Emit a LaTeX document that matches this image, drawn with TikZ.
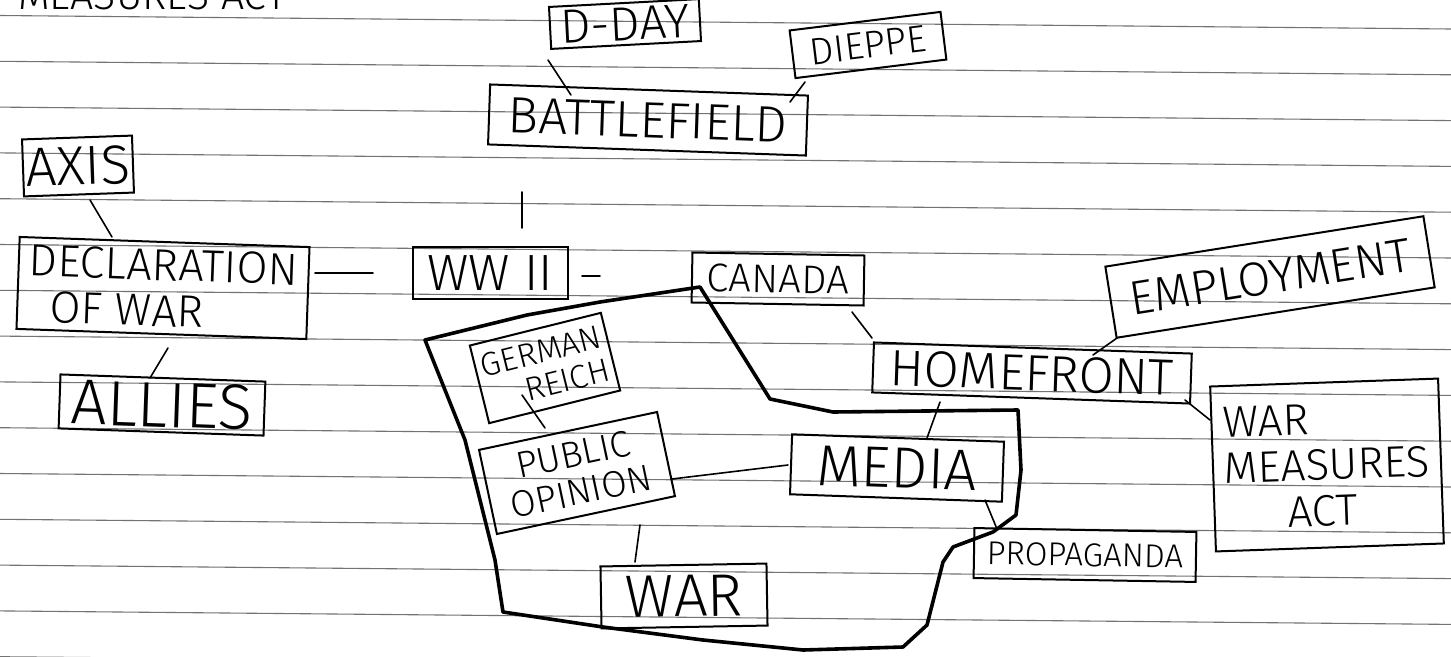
\documentclass[tikz,border=0pt]{standalone}
\usepackage{fontspec}
\IfFontExistsTF{Fira Sans Light}{\setmainfont{Fira Sans Light}}{\setmainfont{Liberation Sans}}
\usetikzlibrary{calc}
\tikzset{
  concept/.style={draw=black, line width=2pt, rectangle, inner sep=0pt, align=center},
  link/.style={line width=1.6pt, line cap=round},
  ruleline/.style={black!55, line width=1.1pt},
  region/.style={line width=3.6pt, line join=round, line cap=round},
  fs/.style={font=\fontsize{#1}{#1}\selectfont},
  fsl/.style 2 args={font=\fontsize{#1}{#2}\selectfont},
}
\begin{document}
\begin{tikzpicture}[x=1pt,y=-1pt]
\useasboundingbox (0,0) rectangle (1451,656);
\clip (0,0) rectangle (1451,656);
\fill[white] (0,0) rectangle (1451,656);
\foreach \k in {0,...,14} \draw[ruleline] (0,{15.5+45.8*\k}) -- (1451,{29+45.8*\k});

% cut-off text at the top
\node[anchor=base west, inner sep=0pt, fs=41] (top) at (18,9) {MEASURES ACT};

% concepts
\node[concept, minimum width=150, minimum height=42, rotate=3, fs=48] (dday) at (625,24) {D-DAY};
\node[concept, minimum width=152, minimum height=48, rotate=7, fs=38] (dieppe) at (868,45) {DIEPPE};
\node[concept, minimum width=318, minimum height=60, rotate=-2, fs=51] (battle) at (648,120) {BATTLEFIELD};
\node[concept, minimum width=110, minimum height=57, rotate=2, fs=55] (axis) at (78,166) {AXIS};
\node[concept, minimum width=290, minimum height=92, rotate=-2, align=left, fsl={45}{46}] (decl) at (163,288) {DECLARATION\\\hspace{22pt}OF WAR};
\node[concept, minimum width=205, minimum height=54, rotate=-2, fs=64] (allies) at (162,405) {ALLIES};
\node[concept, minimum width=155, minimum height=52, fs=51] (ww2) at (490,273) {WW II};
\node[concept, minimum width=172, minimum height=50, rotate=-1, fs=40] (canada) at (778,279) {CANADA};
\node[concept, minimum width=318, minimum height=50, rotate=-2, fs=51] (home) at (1032,373) {HOMEFRONT};
\node[concept, minimum width=322, minimum height=72, rotate=9, fs=48] (employ) at (1270,277) {EMPLOYMENT};
\node[concept, minimum width=228, minimum height=165, rotate=2, align=left, fsl={44}{46}] (wma) at (1327,465) {WAR\\MEASURES\\\hspace{62pt}ACT};
\node[concept, minimum width=135, minimum height=80, rotate=14, align=right, fsl={33}{34}] (german) at (545,368) {GERMAN\\REICH};
\node[concept, minimum width=182, minimum height=86, rotate=12, fsl={37}{38}] (public) at (577,473) {PUBLIC\\OPINION};
\node[concept, minimum width=212, minimum height=60, rotate=-2, fs=58] (media) at (897,468) {MEDIA};
\node[concept, minimum width=222, minimum height=50, rotate=-1, fs=33] (propa) at (1085,555) {PROPAGANDA};
\node[concept, minimum width=166, minimum height=62, rotate=1, fs=60] (war) at (684,596) {WAR};

% connectors
\draw[link] ($(dday)+(-77,36)$) -- ($(battle)+(-77,-25)$);
\draw[link] ($(dieppe)+(-63,37)$) -- ($(battle)+(142,-18)$);
\draw[link] ($(battle)+(-126,72)$) -- ($(ww2)+(32,-45)$);
\draw[link] ($(axis)+(12,34)$) -- ($(decl)+(-51,-51)$);
\draw[link] ($(decl)+(152,-15)$) -- ($(ww2)+(-117,0)$);
\draw[link] ($(decl)+(5,60)$) -- ($(allies)+(-12,-27)$);
\draw[link] ($(ww2)+(92,3)$) -- ($(canada)+(-178,-3)$);
\draw[link] ($(canada)+(74,33)$) -- ($(home)+(-160,-35)$);
\draw[link] ($(employ)+(-153,61)$) -- ($(home)+(61,-18)$);
\draw[link] ($(home)+(153,27)$) -- ($(wma)+(-117,-45)$);
\draw[link] ($(home)+(-92,29)$) -- ($(media)+(30,-30)$);
\draw[link] ($(german)+(-23,27)$) -- ($(public)+(-32,-45)$);
\draw[link] ($(public)+(95,6)$) -- ($(media)+(-109,-3)$);
\draw[link] ($(public)+(63,52)$) -- ($(war)+(-49,-34)$);
\draw[link] ($(media)+(88,32)$) -- ($(propa)+(-88,-26)$);

% thick outline
\draw[region] (700,287) -- (770,399) -- (833,412) -- (1018,410) -- (1021,470) -- (1016,515) -- (993,532)
  -- (953,547) -- (943,562) -- (927,625) -- (903,647) -- (803,650) -- (703,640) -- (603,627) -- (503,612)
  -- (495,560) -- (465,440) -- (425,340) -- (527,315) -- (600,302) -- cycle;
\end{tikzpicture}
\end{document}
